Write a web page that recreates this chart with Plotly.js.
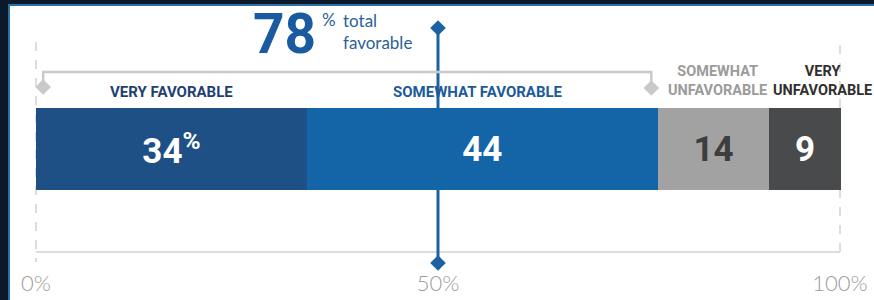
<!DOCTYPE html>
<html>
<head>
<meta charset="utf-8">
<script src="https://cdn.plot.ly/plotly-3.0.1.min.js"></script>
<style>html,body{margin:0;padding:0;background:#0b1a2b;}#chart{width:874px;height:300px;}</style>
</head>
<body>
<div id="chart"></div>
<script>
// ---- data ----
const categories = ["VERY FAVORABLE", "SOMEWHAT FAVORABLE", "SOMEWHAT UNFAVORABLE", "VERY UNFAVORABLE"];
const labelText = ["VERY FAVORABLE", "SOMEWHAT FAVORABLE", "SOMEWHAT<br>UNFAVORABLE", "VERY<br>UNFAVORABLE"];
const values = [34, 44, 14, 9];
const valueText = ["34<sup>%</sup>", "44", "14", "9"];
const totalFavorable = 78;
const tickVals = [0, 50, 100];
const tickText = ["0%", "50%", "100%"];

// ---- styles ----
const barColors = ["#1e4f85", "#1464a8", "#a2a2a2", "#494a4c"];
const barTextColors = ["#ffffff", "#ffffff", "#3d3d3d", "#ffffff"];
const labelColors = ["#1f3f6f", "#1c5a9a", "#9b9b9b", "#2f2f2f"];
const labelShift = [0, -4, 4, 17];
const labelSize = [15, 15, 14.5, 14.5];
const BOLD = "Roboto, 'DejaVu Sans Condensed', sans-serif";
const LIGHT = "Lato, 'Noto Sans', sans-serif";
const W = 874, H = 300;

// axis anchors (pixels)
const x0px = 36, x100px = 840;           // tick scale
const barEndPx = 841;                     // bar scale: total of values ends here
const total = values.reduce((a, b) => a + b, 0);
const a = (x100px - x0px) / 100;
const b = (barEndPx - x0px) / total;
const xRange = [-x0px / a, (W - x0px) / a];
const x2Range = [-x0px / b, (W - x0px) / b];
const P = px => px / W;

// cumulative positions
const starts = [];
values.reduce((acc, v, i) => { starts[i] = acc; return acc + v; }, 0);

const traces = categories.map((c, i) => ({
  type: "bar", orientation: "h", name: c,
  x: [values[i]], y: [149], width: 82,
  xaxis: "x2", yaxis: "y",
  marker: { color: barColors[i], line: { width: 0 } },
  text: [valueText[i]], textposition: "inside", insidetextanchor: "middle",
  textfont: { family: BOLD, size: 35, color: barTextColors[i], weight: 700 },
  hoverinfo: "skip", showlegend: false
}));

// bracket end diamonds (bar scale) and center line diamonds (tick scale)
traces.push({
  type: "scatter", mode: "markers", xaxis: "x2", yaxis: "y",
  x: [0.9, totalFavorable - 0.8], y: [87, 88],
  marker: { symbol: "diamond", size: 12, color: "#c9c9c9" },
  hoverinfo: "skip", showlegend: false
});
traces.push({
  type: "scatter", mode: "markers", xaxis: "x", yaxis: "y",
  x: [tickVals[1], tickVals[1]], y: [28, 263],
  marker: { symbol: "diamond", size: 12, color: "#1a62a3" },
  hoverinfo: "skip", showlegend: false
});

const shapes = [
  // white panel with blue edge
  { type: "rect", xref: "paper", yref: "paper", x0: P(9), x1: 1.01, y0: -0.01, y1: 1 - 5 / H,
    fillcolor: "#ffffff", line: { color: "#2f6ea3", width: 2 }, layer: "below" },
  // dashed guides at 0% and 100%
  { type: "line", xref: "x", yref: "y", x0: tickVals[0], x1: tickVals[0], y0: 42, y1: 262,
    line: { color: "#d2d2d2", width: 1.5, dash: "dash" }, layer: "below" },
  { type: "line", xref: "x", yref: "y", x0: tickVals[2], x1: tickVals[2], y0: 45, y1: 256,
    line: { color: "#d2d2d2", width: 1.5, dash: "dash" }, layer: "below" },
  // baseline
  { type: "line", xref: "x", yref: "y", x0: tickVals[0], x1: tickVals[2], y0: 252, y1: 252,
    line: { color: "#dcdcdc", width: 2 }, layer: "below" },
  // 50% line
  { type: "line", xref: "x", yref: "y", x0: tickVals[1], x1: tickVals[1], y0: 28, y1: 263,
    line: { color: "#1a62a3", width: 3 }, layer: "below" },
  // bracket
  { type: "path", xref: "x2", yref: "y",
    path: `M 0.9 85 L 0.9 72 L ${totalFavorable - 0.8} 72 L ${totalFavorable - 0.8} 85`,
    line: { color: "#c9c9c9", width: 2.5 }, layer: "below" }
];

const annotations = [];
categories.forEach((c, i) => {
  const two = labelText[i].includes("<br>");
  annotations.push({
    xref: "x2", yref: "y", x: starts[i] + values[i] / 2, y: two ? 81 : 92,
    xshift: labelShift[i], xanchor: "center", yanchor: "middle",
    text: labelText[i], showarrow: false,
    font: { family: BOLD, size: labelSize[i], color: labelColors[i], weight: 700 }
  });
});
annotations.push({
  xref: "paper", yref: "y", x: P(318), y: 34, xanchor: "right", yanchor: "middle",
  text: String(totalFavorable), showarrow: false,
  font: { family: BOLD, size: 55, color: "#1a5aa0", weight: 700 }
});
annotations.push({
  xref: "paper", yref: "y", x: P(320), y: 19, xanchor: "left", yanchor: "middle",
  text: "%", showarrow: false,
  font: { family: LIGHT, size: 17, color: "#2b5f98" }
});
annotations.push({
  xref: "paper", yref: "y", x: P(341), y: 31, xanchor: "left", yanchor: "middle", align: "left",
  text: "total<br>favorable", showarrow: false,
  font: { family: LIGHT, size: 17, color: "#2b5f98" }
});

const layout = {
  width: W, height: H,
  margin: { l: 0, r: 0, t: 0, b: 0, pad: 0 },
  paper_bgcolor: "#0b1a2b", plot_bgcolor: "rgba(0,0,0,0)",
  barmode: "stack", bargap: 0,
  xaxis: {
    range: xRange, showgrid: false, zeroline: false, showline: false, fixedrange: true,
    tickmode: "array", tickvals: tickVals, ticktext: tickText, ticks: "",
    ticklabelposition: "inside", ticklabelstandoff: 2,
    tickfont: { family: LIGHT, size: 22, color: "#9c9c9c", weight: 300 }
  },
  xaxis2: { range: x2Range, overlaying: "x", visible: false, fixedrange: true },
  yaxis: { range: [H, 0], visible: false, fixedrange: true },
  shapes: shapes, annotations: annotations, showlegend: false
};

Plotly.newPlot("chart", traces, layout, { displayModeBar: false, staticPlot: true });
</script>
</body>
</html>
